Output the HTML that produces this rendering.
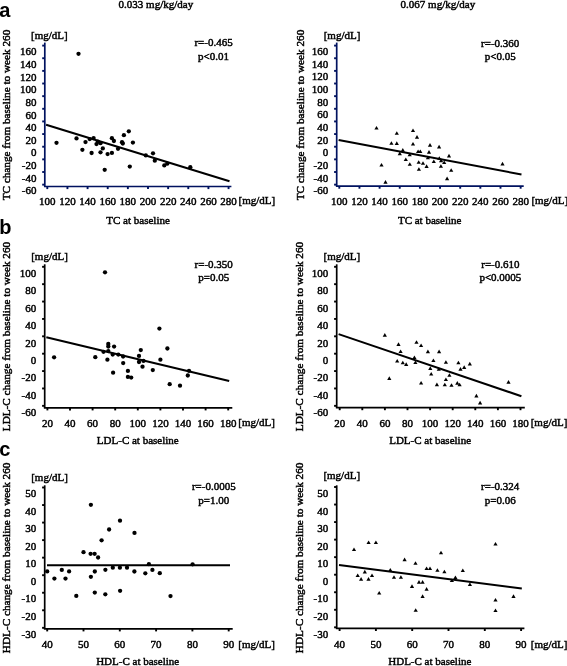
<!DOCTYPE html><html><head><meta charset="utf-8"><style>html,body{margin:0;padding:0;background:#fff;}svg{display:block;will-change:transform;}text{stroke:#000;stroke-width:0.45;}</style></head><body>
<svg width="567" height="666" viewBox="0 0 567 666" font-family='"Liberation Serif", serif' fill="#000">
<rect width="567" height="666" fill="#fff"/>
<text x="155.90" y="7.50" text-anchor="middle" font-size="11" >0.033 mg/kg/day</text>
<text x="437.90" y="7.50" text-anchor="middle" font-size="11" >0.067 mg/kg/day</text>
<text x="-0.8" y="16.5" font-family="'Liberation Sans', sans-serif" font-weight="bold" font-size="20" style="stroke:none">a</text>
<text x="-0.8" y="234.0" font-family="'Liberation Sans', sans-serif" font-weight="bold" font-size="20" style="stroke:none">b</text>
<text x="-0.8" y="455.8" font-family="'Liberation Sans', sans-serif" font-weight="bold" font-size="20" style="stroke:none">c</text>
<line x1="44.80" y1="42.60" x2="44.80" y2="186.50" stroke="#00125f" stroke-width="1.7"/>
<line x1="43.95" y1="186.50" x2="231.40" y2="186.50" stroke="#00125f" stroke-width="1.7"/>
<line x1="42.20" y1="45.60" x2="44.80" y2="45.60" stroke="#00125f" stroke-width="1.9"/>
<line x1="42.20" y1="58.24" x2="44.80" y2="58.24" stroke="#00125f" stroke-width="1.9"/>
<line x1="42.20" y1="70.88" x2="44.80" y2="70.88" stroke="#00125f" stroke-width="1.9"/>
<line x1="42.20" y1="83.52" x2="44.80" y2="83.52" stroke="#00125f" stroke-width="1.9"/>
<line x1="42.20" y1="96.16" x2="44.80" y2="96.16" stroke="#00125f" stroke-width="1.9"/>
<line x1="42.20" y1="108.80" x2="44.80" y2="108.80" stroke="#00125f" stroke-width="1.9"/>
<line x1="42.20" y1="121.44" x2="44.80" y2="121.44" stroke="#00125f" stroke-width="1.9"/>
<line x1="42.20" y1="134.08" x2="44.80" y2="134.08" stroke="#00125f" stroke-width="1.9"/>
<line x1="42.20" y1="146.72" x2="44.80" y2="146.72" stroke="#00125f" stroke-width="1.9"/>
<line x1="42.20" y1="159.36" x2="44.80" y2="159.36" stroke="#00125f" stroke-width="1.9"/>
<line x1="42.20" y1="172.00" x2="44.80" y2="172.00" stroke="#00125f" stroke-width="1.9"/>
<line x1="42.20" y1="184.64" x2="44.80" y2="184.64" stroke="#00125f" stroke-width="1.9"/>
<line x1="47.30" y1="186.50" x2="47.30" y2="189.10" stroke="#00125f" stroke-width="1.9"/>
<line x1="67.44" y1="186.50" x2="67.44" y2="189.10" stroke="#00125f" stroke-width="1.9"/>
<line x1="87.58" y1="186.50" x2="87.58" y2="189.10" stroke="#00125f" stroke-width="1.9"/>
<line x1="107.72" y1="186.50" x2="107.72" y2="189.10" stroke="#00125f" stroke-width="1.9"/>
<line x1="127.86" y1="186.50" x2="127.86" y2="189.10" stroke="#00125f" stroke-width="1.9"/>
<line x1="148.00" y1="186.50" x2="148.00" y2="189.10" stroke="#00125f" stroke-width="1.9"/>
<line x1="168.14" y1="186.50" x2="168.14" y2="189.10" stroke="#00125f" stroke-width="1.9"/>
<line x1="188.28" y1="186.50" x2="188.28" y2="189.10" stroke="#00125f" stroke-width="1.9"/>
<line x1="208.42" y1="186.50" x2="208.42" y2="189.10" stroke="#00125f" stroke-width="1.9"/>
<line x1="228.56" y1="186.50" x2="228.56" y2="189.10" stroke="#00125f" stroke-width="1.9"/>
<text x="36.40" y="55.30" text-anchor="end" font-size="11" >160</text>
<text x="36.40" y="67.94" text-anchor="end" font-size="11" >140</text>
<text x="36.40" y="80.58" text-anchor="end" font-size="11" >120</text>
<text x="36.40" y="93.22" text-anchor="end" font-size="11" >100</text>
<text x="36.40" y="105.86" text-anchor="end" font-size="11" >80</text>
<text x="36.40" y="118.50" text-anchor="end" font-size="11" >60</text>
<text x="36.40" y="131.14" text-anchor="end" font-size="11" >40</text>
<text x="36.40" y="143.78" text-anchor="end" font-size="11" >20</text>
<text x="36.40" y="156.42" text-anchor="end" font-size="11" >0</text>
<text x="36.40" y="169.06" text-anchor="end" font-size="11" >-20</text>
<text x="36.40" y="181.70" text-anchor="end" font-size="11" >-40</text>
<text x="36.40" y="194.34" text-anchor="end" font-size="11" >-60</text>
<text x="47.30" y="205.00" text-anchor="middle" font-size="11" >100</text>
<text x="67.44" y="205.00" text-anchor="middle" font-size="11" >120</text>
<text x="87.58" y="205.00" text-anchor="middle" font-size="11" >140</text>
<text x="107.72" y="205.00" text-anchor="middle" font-size="11" >160</text>
<text x="127.86" y="205.00" text-anchor="middle" font-size="11" >180</text>
<text x="148.00" y="205.00" text-anchor="middle" font-size="11" >200</text>
<text x="168.14" y="205.00" text-anchor="middle" font-size="11" >220</text>
<text x="188.28" y="205.00" text-anchor="middle" font-size="11" >240</text>
<text x="208.42" y="205.00" text-anchor="middle" font-size="11" >260</text>
<text x="228.56" y="205.00" text-anchor="middle" font-size="11" >280</text>
<text x="31.00" y="38.60" text-anchor="start" font-size="11" >[mg/dL]</text>
<text x="238.50" y="204.00" text-anchor="start" font-size="11" >[mg/dL]</text>
<text x="138.10" y="224.00" text-anchor="middle" font-size="11" >TC at baseline</text>
<text x="0" y="0" text-anchor="middle" font-size="10.8" transform="translate(9.60,115.05) rotate(-90) scale(1.04,1)">TC change from baseline to week 260</text>
<text x="213.60" y="46.30" text-anchor="middle" font-size="11" >r=-0.465</text>
<text x="213.60" y="60.00" text-anchor="middle" font-size="11" >p&lt;0.01</text>
<line x1="46.10" y1="124.80" x2="229.50" y2="181.30" stroke="#000" stroke-width="2.05"/>
<circle cx="56.50" cy="142.80" r="2.15"/>
<circle cx="76.50" cy="138.40" r="2.15"/>
<circle cx="85.50" cy="142.10" r="2.15"/>
<circle cx="82.40" cy="149.80" r="2.15"/>
<circle cx="89.70" cy="139.10" r="2.15"/>
<circle cx="93.60" cy="138.10" r="2.15"/>
<circle cx="91.60" cy="153.00" r="2.15"/>
<circle cx="96.50" cy="144.10" r="2.15"/>
<circle cx="97.80" cy="141.70" r="2.15"/>
<circle cx="100.50" cy="143.20" r="2.15"/>
<circle cx="102.80" cy="148.40" r="2.15"/>
<circle cx="100.50" cy="152.30" r="2.15"/>
<circle cx="107.60" cy="154.10" r="2.15"/>
<circle cx="111.90" cy="152.90" r="2.15"/>
<circle cx="111.90" cy="138.20" r="2.15"/>
<circle cx="113.90" cy="141.00" r="2.15"/>
<circle cx="104.70" cy="169.80" r="2.15"/>
<circle cx="118.00" cy="148.80" r="2.15"/>
<circle cx="122.00" cy="142.20" r="2.15"/>
<circle cx="122.80" cy="143.50" r="2.15"/>
<circle cx="123.90" cy="135.20" r="2.15"/>
<circle cx="128.80" cy="131.30" r="2.15"/>
<circle cx="132.90" cy="142.60" r="2.15"/>
<circle cx="129.80" cy="166.60" r="2.15"/>
<circle cx="145.80" cy="155.40" r="2.15"/>
<circle cx="153.00" cy="153.30" r="2.15"/>
<circle cx="154.80" cy="160.70" r="2.15"/>
<circle cx="164.30" cy="165.40" r="2.15"/>
<circle cx="167.30" cy="163.70" r="2.15"/>
<circle cx="190.30" cy="167.20" r="2.15"/>
<circle cx="78.50" cy="53.80" r="2.15"/>
<line x1="336.70" y1="42.60" x2="336.70" y2="186.10" stroke="#00125f" stroke-width="1.7"/>
<line x1="335.85" y1="186.10" x2="523.70" y2="186.10" stroke="#00125f" stroke-width="1.7"/>
<line x1="334.10" y1="45.60" x2="336.70" y2="45.60" stroke="#00125f" stroke-width="1.9"/>
<line x1="334.10" y1="58.24" x2="336.70" y2="58.24" stroke="#00125f" stroke-width="1.9"/>
<line x1="334.10" y1="70.88" x2="336.70" y2="70.88" stroke="#00125f" stroke-width="1.9"/>
<line x1="334.10" y1="83.52" x2="336.70" y2="83.52" stroke="#00125f" stroke-width="1.9"/>
<line x1="334.10" y1="96.16" x2="336.70" y2="96.16" stroke="#00125f" stroke-width="1.9"/>
<line x1="334.10" y1="108.80" x2="336.70" y2="108.80" stroke="#00125f" stroke-width="1.9"/>
<line x1="334.10" y1="121.44" x2="336.70" y2="121.44" stroke="#00125f" stroke-width="1.9"/>
<line x1="334.10" y1="134.08" x2="336.70" y2="134.08" stroke="#00125f" stroke-width="1.9"/>
<line x1="334.10" y1="146.72" x2="336.70" y2="146.72" stroke="#00125f" stroke-width="1.9"/>
<line x1="334.10" y1="159.36" x2="336.70" y2="159.36" stroke="#00125f" stroke-width="1.9"/>
<line x1="334.10" y1="172.00" x2="336.70" y2="172.00" stroke="#00125f" stroke-width="1.9"/>
<line x1="334.10" y1="184.64" x2="336.70" y2="184.64" stroke="#00125f" stroke-width="1.9"/>
<line x1="339.30" y1="186.10" x2="339.30" y2="188.70" stroke="#00125f" stroke-width="1.9"/>
<line x1="359.45" y1="186.10" x2="359.45" y2="188.70" stroke="#00125f" stroke-width="1.9"/>
<line x1="379.60" y1="186.10" x2="379.60" y2="188.70" stroke="#00125f" stroke-width="1.9"/>
<line x1="399.75" y1="186.10" x2="399.75" y2="188.70" stroke="#00125f" stroke-width="1.9"/>
<line x1="419.90" y1="186.10" x2="419.90" y2="188.70" stroke="#00125f" stroke-width="1.9"/>
<line x1="440.05" y1="186.10" x2="440.05" y2="188.70" stroke="#00125f" stroke-width="1.9"/>
<line x1="460.20" y1="186.10" x2="460.20" y2="188.70" stroke="#00125f" stroke-width="1.9"/>
<line x1="480.35" y1="186.10" x2="480.35" y2="188.70" stroke="#00125f" stroke-width="1.9"/>
<line x1="500.50" y1="186.10" x2="500.50" y2="188.70" stroke="#00125f" stroke-width="1.9"/>
<line x1="520.65" y1="186.10" x2="520.65" y2="188.70" stroke="#00125f" stroke-width="1.9"/>
<text x="328.20" y="55.20" text-anchor="end" font-size="11" >160</text>
<text x="328.20" y="67.84" text-anchor="end" font-size="11" >140</text>
<text x="328.20" y="80.48" text-anchor="end" font-size="11" >120</text>
<text x="328.20" y="93.12" text-anchor="end" font-size="11" >100</text>
<text x="328.20" y="105.76" text-anchor="end" font-size="11" >80</text>
<text x="328.20" y="118.40" text-anchor="end" font-size="11" >60</text>
<text x="328.20" y="131.04" text-anchor="end" font-size="11" >40</text>
<text x="328.20" y="143.68" text-anchor="end" font-size="11" >20</text>
<text x="328.20" y="156.32" text-anchor="end" font-size="11" >0</text>
<text x="328.20" y="168.96" text-anchor="end" font-size="11" >-20</text>
<text x="328.20" y="181.60" text-anchor="end" font-size="11" >-40</text>
<text x="328.20" y="194.24" text-anchor="end" font-size="11" >-60</text>
<text x="339.30" y="204.80" text-anchor="middle" font-size="11" >100</text>
<text x="359.45" y="204.80" text-anchor="middle" font-size="11" >120</text>
<text x="379.60" y="204.80" text-anchor="middle" font-size="11" >140</text>
<text x="399.75" y="204.80" text-anchor="middle" font-size="11" >160</text>
<text x="419.90" y="204.80" text-anchor="middle" font-size="11" >180</text>
<text x="440.05" y="204.80" text-anchor="middle" font-size="11" >200</text>
<text x="460.20" y="204.80" text-anchor="middle" font-size="11" >220</text>
<text x="480.35" y="204.80" text-anchor="middle" font-size="11" >240</text>
<text x="500.50" y="204.80" text-anchor="middle" font-size="11" >260</text>
<text x="520.65" y="204.80" text-anchor="middle" font-size="11" >280</text>
<text x="323.70" y="38.60" text-anchor="start" font-size="11" >[mg/dL]</text>
<text x="531.40" y="204.00" text-anchor="start" font-size="11" >[mg/dL]</text>
<text x="429.70" y="224.00" text-anchor="middle" font-size="11" >TC at baseline</text>
<text x="0" y="0" text-anchor="middle" font-size="10.8" transform="translate(303.50,115.05) rotate(-90) scale(1.04,1)">TC change from baseline to week 260</text>
<text x="500.20" y="46.70" text-anchor="middle" font-size="11" >r=-0.360</text>
<text x="500.20" y="60.00" text-anchor="middle" font-size="11" >p&lt;0.05</text>
<line x1="338.60" y1="139.90" x2="521.50" y2="174.50" stroke="#000" stroke-width="2.05"/>
<path d="M376.50 126.00L378.60 129.60L374.40 129.60Z"/>
<path d="M396.80 131.20L398.90 134.80L394.70 134.80Z"/>
<path d="M391.40 141.20L393.50 144.80L389.30 144.80Z"/>
<path d="M396.80 141.30L398.90 144.90L394.70 144.90Z"/>
<path d="M413.00 128.50L415.10 132.10L410.90 132.10Z"/>
<path d="M417.00 135.10L419.10 138.70L414.90 138.70Z"/>
<path d="M413.00 142.00L415.10 145.60L410.90 145.60Z"/>
<path d="M402.80 148.10L404.90 151.70L400.70 151.70Z"/>
<path d="M399.80 151.60L401.90 155.20L397.70 155.20Z"/>
<path d="M409.70 152.70L411.80 156.30L407.60 156.30Z"/>
<path d="M405.80 157.50L407.90 161.10L403.70 161.10Z"/>
<path d="M409.80 162.20L411.90 165.80L407.70 165.80Z"/>
<path d="M418.10 149.50L420.20 153.10L416.00 153.10Z"/>
<path d="M420.30 149.50L422.40 153.10L418.20 153.10Z"/>
<path d="M418.70 160.20L420.80 163.80L416.60 163.80Z"/>
<path d="M423.00 161.20L425.10 164.80L420.90 164.80Z"/>
<path d="M426.60 164.30L428.70 167.90L424.50 167.90Z"/>
<path d="M418.90 167.20L421.00 170.80L416.80 170.80Z"/>
<path d="M430.00 143.10L432.10 146.70L427.90 146.70Z"/>
<path d="M429.00 150.10L431.10 153.70L426.90 153.70Z"/>
<path d="M427.90 155.70L430.00 159.30L425.80 159.30Z"/>
<path d="M433.80 159.40L435.90 163.00L431.70 163.00Z"/>
<path d="M439.10 144.80L441.20 148.40L437.00 148.40Z"/>
<path d="M439.30 156.20L441.40 159.80L437.20 159.80Z"/>
<path d="M441.10 158.60L443.20 162.20L439.00 162.20Z"/>
<path d="M444.20 160.40L446.30 164.00L442.10 164.00Z"/>
<path d="M440.90 164.20L443.00 167.80L438.80 167.80Z"/>
<path d="M449.00 153.80L451.10 157.40L446.90 157.40Z"/>
<path d="M451.20 168.20L453.30 171.80L449.10 171.80Z"/>
<path d="M447.10 176.60L449.20 180.20L445.00 180.20Z"/>
<path d="M381.50 162.90L383.60 166.50L379.40 166.50Z"/>
<path d="M385.50 180.10L387.60 183.70L383.40 183.70Z"/>
<path d="M502.50 161.80L504.60 165.40L500.40 165.40Z"/>
<line x1="44.70" y1="264.30" x2="44.70" y2="407.80" stroke="#000" stroke-width="1.7"/>
<line x1="43.85" y1="407.80" x2="232.30" y2="407.80" stroke="#000" stroke-width="1.7"/>
<line x1="42.10" y1="266.80" x2="44.70" y2="266.80" stroke="#000" stroke-width="1.9"/>
<line x1="42.10" y1="284.18" x2="44.70" y2="284.18" stroke="#000" stroke-width="1.9"/>
<line x1="42.10" y1="301.56" x2="44.70" y2="301.56" stroke="#000" stroke-width="1.9"/>
<line x1="42.10" y1="318.94" x2="44.70" y2="318.94" stroke="#000" stroke-width="1.9"/>
<line x1="42.10" y1="336.32" x2="44.70" y2="336.32" stroke="#000" stroke-width="1.9"/>
<line x1="42.10" y1="353.70" x2="44.70" y2="353.70" stroke="#000" stroke-width="1.9"/>
<line x1="42.10" y1="371.08" x2="44.70" y2="371.08" stroke="#000" stroke-width="1.9"/>
<line x1="42.10" y1="388.46" x2="44.70" y2="388.46" stroke="#000" stroke-width="1.9"/>
<line x1="42.10" y1="405.84" x2="44.70" y2="405.84" stroke="#000" stroke-width="1.9"/>
<line x1="47.40" y1="407.80" x2="47.40" y2="410.40" stroke="#000" stroke-width="1.9"/>
<line x1="70.00" y1="407.80" x2="70.00" y2="410.40" stroke="#000" stroke-width="1.9"/>
<line x1="92.60" y1="407.80" x2="92.60" y2="410.40" stroke="#000" stroke-width="1.9"/>
<line x1="115.20" y1="407.80" x2="115.20" y2="410.40" stroke="#000" stroke-width="1.9"/>
<line x1="137.80" y1="407.80" x2="137.80" y2="410.40" stroke="#000" stroke-width="1.9"/>
<line x1="160.40" y1="407.80" x2="160.40" y2="410.40" stroke="#000" stroke-width="1.9"/>
<line x1="183.00" y1="407.80" x2="183.00" y2="410.40" stroke="#000" stroke-width="1.9"/>
<line x1="205.60" y1="407.80" x2="205.60" y2="410.40" stroke="#000" stroke-width="1.9"/>
<line x1="228.20" y1="407.80" x2="228.20" y2="410.40" stroke="#000" stroke-width="1.9"/>
<text x="36.20" y="277.00" text-anchor="end" font-size="11" >100</text>
<text x="36.20" y="294.40" text-anchor="end" font-size="11" >80</text>
<text x="36.20" y="311.80" text-anchor="end" font-size="11" >60</text>
<text x="36.20" y="329.20" text-anchor="end" font-size="11" >40</text>
<text x="36.20" y="346.60" text-anchor="end" font-size="11" >20</text>
<text x="36.20" y="364.00" text-anchor="end" font-size="11" >0</text>
<text x="36.20" y="381.40" text-anchor="end" font-size="11" >-20</text>
<text x="36.20" y="398.80" text-anchor="end" font-size="11" >-40</text>
<text x="36.20" y="416.20" text-anchor="end" font-size="11" >-60</text>
<text x="47.40" y="426.80" text-anchor="middle" font-size="11" >20</text>
<text x="70.00" y="426.80" text-anchor="middle" font-size="11" >40</text>
<text x="92.60" y="426.80" text-anchor="middle" font-size="11" >60</text>
<text x="115.20" y="426.80" text-anchor="middle" font-size="11" >80</text>
<text x="137.80" y="426.80" text-anchor="middle" font-size="11" >100</text>
<text x="160.40" y="426.80" text-anchor="middle" font-size="11" >120</text>
<text x="183.00" y="426.80" text-anchor="middle" font-size="11" >140</text>
<text x="205.60" y="426.80" text-anchor="middle" font-size="11" >160</text>
<text x="228.20" y="426.80" text-anchor="middle" font-size="11" >180</text>
<text x="31.20" y="260.00" text-anchor="start" font-size="11" >[mg/dL]</text>
<text x="238.30" y="426.00" text-anchor="start" font-size="11" >[mg/dL]</text>
<text x="137.80" y="444.00" text-anchor="middle" font-size="11" >LDL-C at baseline</text>
<text x="0" y="0" text-anchor="middle" font-size="10.8" transform="translate(9.60,336.55) rotate(-90) scale(1.04,1)">LDL-C change from baseline to week 260</text>
<text x="213.70" y="267.90" text-anchor="middle" font-size="11" >r=-0.350</text>
<text x="213.70" y="281.10" text-anchor="middle" font-size="11" >p=0.05</text>
<line x1="46.30" y1="337.20" x2="229.20" y2="380.90" stroke="#000" stroke-width="2.05"/>
<circle cx="105.00" cy="272.30" r="2.15"/>
<circle cx="54.10" cy="357.30" r="2.15"/>
<circle cx="95.30" cy="357.20" r="2.15"/>
<circle cx="108.30" cy="344.00" r="2.15"/>
<circle cx="108.30" cy="346.50" r="2.15"/>
<circle cx="114.10" cy="346.60" r="2.15"/>
<circle cx="103.50" cy="351.80" r="2.15"/>
<circle cx="108.30" cy="351.10" r="2.15"/>
<circle cx="112.70" cy="354.60" r="2.15"/>
<circle cx="118.30" cy="354.60" r="2.15"/>
<circle cx="123.10" cy="356.50" r="2.15"/>
<circle cx="107.40" cy="359.70" r="2.15"/>
<circle cx="123.20" cy="363.10" r="2.15"/>
<circle cx="113.10" cy="372.70" r="2.15"/>
<circle cx="127.90" cy="370.90" r="2.15"/>
<circle cx="127.90" cy="376.90" r="2.15"/>
<circle cx="131.20" cy="377.60" r="2.15"/>
<circle cx="159.40" cy="328.60" r="2.15"/>
<circle cx="167.40" cy="348.50" r="2.15"/>
<circle cx="140.80" cy="350.10" r="2.15"/>
<circle cx="139.00" cy="355.90" r="2.15"/>
<circle cx="139.00" cy="362.00" r="2.15"/>
<circle cx="143.50" cy="360.90" r="2.15"/>
<circle cx="142.50" cy="366.70" r="2.15"/>
<circle cx="160.40" cy="359.70" r="2.15"/>
<circle cx="152.80" cy="370.10" r="2.15"/>
<circle cx="189.00" cy="370.80" r="2.15"/>
<circle cx="187.80" cy="375.50" r="2.15"/>
<circle cx="169.70" cy="384.20" r="2.15"/>
<circle cx="180.00" cy="385.70" r="2.15"/>
<line x1="336.70" y1="264.30" x2="336.70" y2="407.60" stroke="#000" stroke-width="1.7"/>
<line x1="335.85" y1="407.60" x2="524.80" y2="407.60" stroke="#000" stroke-width="1.7"/>
<line x1="334.10" y1="266.80" x2="336.70" y2="266.80" stroke="#000" stroke-width="1.9"/>
<line x1="334.10" y1="284.18" x2="336.70" y2="284.18" stroke="#000" stroke-width="1.9"/>
<line x1="334.10" y1="301.56" x2="336.70" y2="301.56" stroke="#000" stroke-width="1.9"/>
<line x1="334.10" y1="318.94" x2="336.70" y2="318.94" stroke="#000" stroke-width="1.9"/>
<line x1="334.10" y1="336.32" x2="336.70" y2="336.32" stroke="#000" stroke-width="1.9"/>
<line x1="334.10" y1="353.70" x2="336.70" y2="353.70" stroke="#000" stroke-width="1.9"/>
<line x1="334.10" y1="371.08" x2="336.70" y2="371.08" stroke="#000" stroke-width="1.9"/>
<line x1="334.10" y1="388.46" x2="336.70" y2="388.46" stroke="#000" stroke-width="1.9"/>
<line x1="334.10" y1="405.84" x2="336.70" y2="405.84" stroke="#000" stroke-width="1.9"/>
<line x1="339.70" y1="407.60" x2="339.70" y2="410.20" stroke="#000" stroke-width="1.9"/>
<line x1="362.30" y1="407.60" x2="362.30" y2="410.20" stroke="#000" stroke-width="1.9"/>
<line x1="384.90" y1="407.60" x2="384.90" y2="410.20" stroke="#000" stroke-width="1.9"/>
<line x1="407.50" y1="407.60" x2="407.50" y2="410.20" stroke="#000" stroke-width="1.9"/>
<line x1="430.10" y1="407.60" x2="430.10" y2="410.20" stroke="#000" stroke-width="1.9"/>
<line x1="452.70" y1="407.60" x2="452.70" y2="410.20" stroke="#000" stroke-width="1.9"/>
<line x1="475.30" y1="407.60" x2="475.30" y2="410.20" stroke="#000" stroke-width="1.9"/>
<line x1="497.90" y1="407.60" x2="497.90" y2="410.20" stroke="#000" stroke-width="1.9"/>
<line x1="520.50" y1="407.60" x2="520.50" y2="410.20" stroke="#000" stroke-width="1.9"/>
<text x="328.20" y="277.00" text-anchor="end" font-size="11" >100</text>
<text x="328.20" y="294.40" text-anchor="end" font-size="11" >80</text>
<text x="328.20" y="311.80" text-anchor="end" font-size="11" >60</text>
<text x="328.20" y="329.20" text-anchor="end" font-size="11" >40</text>
<text x="328.20" y="346.60" text-anchor="end" font-size="11" >20</text>
<text x="328.20" y="364.00" text-anchor="end" font-size="11" >0</text>
<text x="328.20" y="381.40" text-anchor="end" font-size="11" >-20</text>
<text x="328.20" y="398.80" text-anchor="end" font-size="11" >-40</text>
<text x="328.20" y="416.20" text-anchor="end" font-size="11" >-60</text>
<text x="339.70" y="426.80" text-anchor="middle" font-size="11" >20</text>
<text x="362.30" y="426.80" text-anchor="middle" font-size="11" >40</text>
<text x="384.90" y="426.80" text-anchor="middle" font-size="11" >60</text>
<text x="407.50" y="426.80" text-anchor="middle" font-size="11" >80</text>
<text x="430.10" y="426.80" text-anchor="middle" font-size="11" >100</text>
<text x="452.70" y="426.80" text-anchor="middle" font-size="11" >120</text>
<text x="475.30" y="426.80" text-anchor="middle" font-size="11" >140</text>
<text x="497.90" y="426.80" text-anchor="middle" font-size="11" >160</text>
<text x="520.50" y="426.80" text-anchor="middle" font-size="11" >180</text>
<text x="323.60" y="260.00" text-anchor="start" font-size="11" >[mg/dL]</text>
<text x="530.70" y="426.00" text-anchor="start" font-size="11" >[mg/dL]</text>
<text x="430.10" y="444.00" text-anchor="middle" font-size="11" >LDL-C at baseline</text>
<text x="0" y="0" text-anchor="middle" font-size="10.8" transform="translate(303.30,336.55) rotate(-90) scale(1.04,1)">LDL-C change from baseline to week 260</text>
<text x="500.40" y="267.90" text-anchor="middle" font-size="11" >r=-0.610</text>
<text x="500.40" y="281.10" text-anchor="middle" font-size="11" >p&lt;0.0005</text>
<line x1="338.60" y1="334.10" x2="521.40" y2="396.20" stroke="#000" stroke-width="2.05"/>
<path d="M384.80 333.10L386.90 336.70L382.70 336.70Z"/>
<path d="M398.50 342.30L400.60 345.90L396.40 345.90Z"/>
<path d="M416.50 340.20L418.60 343.80L414.40 343.80Z"/>
<path d="M421.10 343.50L423.20 347.10L419.00 347.10Z"/>
<path d="M400.60 349.40L402.70 353.00L398.50 353.00Z"/>
<path d="M427.90 349.60L430.00 353.20L425.80 353.20Z"/>
<path d="M439.10 349.60L441.20 353.20L437.00 353.20Z"/>
<path d="M414.40 355.50L416.50 359.10L412.30 359.10Z"/>
<path d="M433.40 358.40L435.50 362.00L431.30 362.00Z"/>
<path d="M397.20 358.90L399.30 362.50L395.10 362.50Z"/>
<path d="M402.80 360.70L404.90 364.30L400.70 364.30Z"/>
<path d="M406.20 362.30L408.30 365.90L404.10 365.90Z"/>
<path d="M415.40 360.50L417.50 364.10L413.30 364.10Z"/>
<path d="M430.30 366.30L432.40 369.90L428.20 369.90Z"/>
<path d="M438.80 367.20L440.90 370.80L436.70 370.80Z"/>
<path d="M431.20 371.90L433.30 375.50L429.10 375.50Z"/>
<path d="M389.30 376.30L391.40 379.90L387.20 379.90Z"/>
<path d="M421.10 380.90L423.20 384.50L419.00 384.50Z"/>
<path d="M436.90 382.60L439.00 386.20L434.80 386.20Z"/>
<path d="M445.90 360.20L448.00 363.80L443.80 363.80Z"/>
<path d="M458.40 360.70L460.50 364.30L456.30 364.30Z"/>
<path d="M469.80 361.80L471.90 365.40L467.70 365.40Z"/>
<path d="M464.20 365.30L466.30 368.90L462.10 368.90Z"/>
<path d="M460.50 367.10L462.60 370.70L458.40 370.70Z"/>
<path d="M449.40 373.20L451.50 376.80L447.30 376.80Z"/>
<path d="M445.90 377.40L448.00 381.00L443.80 381.00Z"/>
<path d="M444.80 382.70L446.90 386.30L442.70 386.30Z"/>
<path d="M451.50 383.20L453.60 386.80L449.40 386.80Z"/>
<path d="M457.30 381.10L459.40 384.70L455.20 384.70Z"/>
<path d="M459.60 382.70L461.70 386.30L457.50 386.30Z"/>
<path d="M508.50 380.10L510.60 383.70L506.40 383.70Z"/>
<path d="M476.40 393.80L478.50 397.40L474.30 397.40Z"/>
<path d="M480.10 400.80L482.20 404.40L478.00 404.40Z"/>
<line x1="44.70" y1="485.30" x2="44.70" y2="628.80" stroke="#000" stroke-width="1.7"/>
<line x1="43.85" y1="628.80" x2="232.70" y2="628.80" stroke="#000" stroke-width="1.7"/>
<line x1="42.10" y1="487.50" x2="44.70" y2="487.50" stroke="#000" stroke-width="1.9"/>
<line x1="42.10" y1="505.04" x2="44.70" y2="505.04" stroke="#000" stroke-width="1.9"/>
<line x1="42.10" y1="522.58" x2="44.70" y2="522.58" stroke="#000" stroke-width="1.9"/>
<line x1="42.10" y1="540.12" x2="44.70" y2="540.12" stroke="#000" stroke-width="1.9"/>
<line x1="42.10" y1="557.66" x2="44.70" y2="557.66" stroke="#000" stroke-width="1.9"/>
<line x1="42.10" y1="575.20" x2="44.70" y2="575.20" stroke="#000" stroke-width="1.9"/>
<line x1="42.10" y1="592.74" x2="44.70" y2="592.74" stroke="#000" stroke-width="1.9"/>
<line x1="42.10" y1="610.28" x2="44.70" y2="610.28" stroke="#000" stroke-width="1.9"/>
<line x1="42.10" y1="627.82" x2="44.70" y2="627.82" stroke="#000" stroke-width="1.9"/>
<line x1="47.20" y1="628.80" x2="47.20" y2="631.40" stroke="#000" stroke-width="1.9"/>
<line x1="83.50" y1="628.80" x2="83.50" y2="631.40" stroke="#000" stroke-width="1.9"/>
<line x1="119.80" y1="628.80" x2="119.80" y2="631.40" stroke="#000" stroke-width="1.9"/>
<line x1="156.10" y1="628.80" x2="156.10" y2="631.40" stroke="#000" stroke-width="1.9"/>
<line x1="192.40" y1="628.80" x2="192.40" y2="631.40" stroke="#000" stroke-width="1.9"/>
<line x1="228.70" y1="628.80" x2="228.70" y2="631.40" stroke="#000" stroke-width="1.9"/>
<text x="36.20" y="497.00" text-anchor="end" font-size="11" >50</text>
<text x="36.20" y="514.58" text-anchor="end" font-size="11" >40</text>
<text x="36.20" y="532.16" text-anchor="end" font-size="11" >30</text>
<text x="36.20" y="549.74" text-anchor="end" font-size="11" >20</text>
<text x="36.20" y="567.32" text-anchor="end" font-size="11" >10</text>
<text x="36.20" y="584.90" text-anchor="end" font-size="11" >0</text>
<text x="36.20" y="602.48" text-anchor="end" font-size="11" >-10</text>
<text x="36.20" y="620.06" text-anchor="end" font-size="11" >-20</text>
<text x="36.20" y="637.64" text-anchor="end" font-size="11" >-30</text>
<text x="47.20" y="647.60" text-anchor="middle" font-size="11" >40</text>
<text x="83.50" y="647.60" text-anchor="middle" font-size="11" >50</text>
<text x="119.80" y="647.60" text-anchor="middle" font-size="11" >60</text>
<text x="156.10" y="647.60" text-anchor="middle" font-size="11" >70</text>
<text x="192.40" y="647.60" text-anchor="middle" font-size="11" >80</text>
<text x="228.70" y="647.60" text-anchor="middle" font-size="11" >90</text>
<text x="31.20" y="481.00" text-anchor="start" font-size="11" >[mg/dL]</text>
<text x="238.30" y="648.00" text-anchor="start" font-size="11" >[mg/dL]</text>
<text x="137.70" y="665.00" text-anchor="middle" font-size="11" >HDL-C at baseline</text>
<text x="0" y="0" text-anchor="middle" font-size="10.8" transform="translate(9.60,557.85) rotate(-90) scale(1.04,1)">HDL-C change from baseline to week 260</text>
<text x="213.80" y="490.10" text-anchor="middle" font-size="11" >r=-0.0005</text>
<text x="213.80" y="503.70" text-anchor="middle" font-size="11" >p=1.00</text>
<line x1="47.00" y1="565.20" x2="230.00" y2="565.20" stroke="#000" stroke-width="2.05"/>
<circle cx="47.20" cy="571.40" r="2.15"/>
<circle cx="61.80" cy="569.90" r="2.15"/>
<circle cx="69.10" cy="571.40" r="2.15"/>
<circle cx="54.40" cy="578.60" r="2.15"/>
<circle cx="65.50" cy="578.60" r="2.15"/>
<circle cx="83.50" cy="552.20" r="2.15"/>
<circle cx="90.60" cy="553.80" r="2.15"/>
<circle cx="94.60" cy="553.80" r="2.15"/>
<circle cx="98.10" cy="557.50" r="2.15"/>
<circle cx="101.60" cy="540.30" r="2.15"/>
<circle cx="94.80" cy="571.50" r="2.15"/>
<circle cx="90.90" cy="576.80" r="2.15"/>
<circle cx="76.30" cy="595.90" r="2.15"/>
<circle cx="94.80" cy="592.60" r="2.15"/>
<circle cx="90.90" cy="504.80" r="2.15"/>
<circle cx="120.00" cy="520.70" r="2.15"/>
<circle cx="109.10" cy="529.50" r="2.15"/>
<circle cx="134.50" cy="532.90" r="2.15"/>
<circle cx="105.40" cy="569.80" r="2.15"/>
<circle cx="112.80" cy="567.70" r="2.15"/>
<circle cx="119.90" cy="567.70" r="2.15"/>
<circle cx="127.00" cy="567.70" r="2.15"/>
<circle cx="134.40" cy="571.50" r="2.15"/>
<circle cx="145.30" cy="573.30" r="2.15"/>
<circle cx="152.40" cy="569.90" r="2.15"/>
<circle cx="148.90" cy="564.20" r="2.15"/>
<circle cx="105.30" cy="594.30" r="2.15"/>
<circle cx="120.10" cy="590.80" r="2.15"/>
<circle cx="159.80" cy="573.20" r="2.15"/>
<circle cx="170.50" cy="596.10" r="2.15"/>
<circle cx="192.60" cy="564.30" r="2.15"/>
<line x1="336.70" y1="485.30" x2="336.70" y2="628.40" stroke="#000" stroke-width="1.7"/>
<line x1="335.85" y1="628.40" x2="524.40" y2="628.40" stroke="#000" stroke-width="1.7"/>
<line x1="334.10" y1="487.00" x2="336.70" y2="487.00" stroke="#000" stroke-width="1.9"/>
<line x1="334.10" y1="504.54" x2="336.70" y2="504.54" stroke="#000" stroke-width="1.9"/>
<line x1="334.10" y1="522.08" x2="336.70" y2="522.08" stroke="#000" stroke-width="1.9"/>
<line x1="334.10" y1="539.62" x2="336.70" y2="539.62" stroke="#000" stroke-width="1.9"/>
<line x1="334.10" y1="557.16" x2="336.70" y2="557.16" stroke="#000" stroke-width="1.9"/>
<line x1="334.10" y1="574.70" x2="336.70" y2="574.70" stroke="#000" stroke-width="1.9"/>
<line x1="334.10" y1="592.24" x2="336.70" y2="592.24" stroke="#000" stroke-width="1.9"/>
<line x1="334.10" y1="609.78" x2="336.70" y2="609.78" stroke="#000" stroke-width="1.9"/>
<line x1="334.10" y1="627.32" x2="336.70" y2="627.32" stroke="#000" stroke-width="1.9"/>
<line x1="339.60" y1="628.40" x2="339.60" y2="631.00" stroke="#000" stroke-width="1.9"/>
<line x1="375.90" y1="628.40" x2="375.90" y2="631.00" stroke="#000" stroke-width="1.9"/>
<line x1="412.20" y1="628.40" x2="412.20" y2="631.00" stroke="#000" stroke-width="1.9"/>
<line x1="448.50" y1="628.40" x2="448.50" y2="631.00" stroke="#000" stroke-width="1.9"/>
<line x1="484.80" y1="628.40" x2="484.80" y2="631.00" stroke="#000" stroke-width="1.9"/>
<line x1="521.10" y1="628.40" x2="521.10" y2="631.00" stroke="#000" stroke-width="1.9"/>
<text x="328.20" y="497.00" text-anchor="end" font-size="11" >50</text>
<text x="328.20" y="514.58" text-anchor="end" font-size="11" >40</text>
<text x="328.20" y="532.16" text-anchor="end" font-size="11" >30</text>
<text x="328.20" y="549.74" text-anchor="end" font-size="11" >20</text>
<text x="328.20" y="567.32" text-anchor="end" font-size="11" >10</text>
<text x="328.20" y="584.90" text-anchor="end" font-size="11" >0</text>
<text x="328.20" y="602.48" text-anchor="end" font-size="11" >-10</text>
<text x="328.20" y="620.06" text-anchor="end" font-size="11" >-20</text>
<text x="328.20" y="637.64" text-anchor="end" font-size="11" >-30</text>
<text x="339.60" y="647.60" text-anchor="middle" font-size="11" >40</text>
<text x="375.90" y="647.60" text-anchor="middle" font-size="11" >50</text>
<text x="412.20" y="647.60" text-anchor="middle" font-size="11" >60</text>
<text x="448.50" y="647.60" text-anchor="middle" font-size="11" >70</text>
<text x="484.80" y="647.60" text-anchor="middle" font-size="11" >80</text>
<text x="521.10" y="647.60" text-anchor="middle" font-size="11" >90</text>
<text x="323.40" y="479.00" text-anchor="start" font-size="11" >[mg/dL]</text>
<text x="530.80" y="648.00" text-anchor="start" font-size="11" >[mg/dL]</text>
<text x="429.80" y="665.00" text-anchor="middle" font-size="11" >HDL-C at baseline</text>
<text x="0" y="0" text-anchor="middle" font-size="10.8" transform="translate(303.30,557.85) rotate(-90) scale(1.04,1)">HDL-C change from baseline to week 260</text>
<text x="500.20" y="490.10" text-anchor="middle" font-size="11" >r=-0.324</text>
<text x="500.20" y="503.70" text-anchor="middle" font-size="11" >p=0.06</text>
<line x1="339.00" y1="564.90" x2="521.80" y2="588.60" stroke="#000" stroke-width="2.05"/>
<path d="M368.60 540.40L370.70 544.00L366.50 544.00Z"/>
<path d="M375.90 540.40L378.00 544.00L373.80 544.00Z"/>
<path d="M354.00 547.50L356.10 551.10L351.90 551.10Z"/>
<path d="M364.80 569.80L366.90 573.40L362.70 573.40Z"/>
<path d="M357.70 573.50L359.80 577.10L355.60 577.10Z"/>
<path d="M372.00 573.50L374.10 577.10L369.90 577.10Z"/>
<path d="M361.10 577.10L363.20 580.70L359.00 580.70Z"/>
<path d="M368.50 577.10L370.60 580.70L366.40 580.70Z"/>
<path d="M390.30 567.90L392.40 571.50L388.20 571.50Z"/>
<path d="M394.00 575.20L396.10 578.80L391.90 578.80Z"/>
<path d="M400.90 575.20L403.00 578.80L398.80 578.80Z"/>
<path d="M404.60 557.60L406.70 561.20L402.50 561.20Z"/>
<path d="M415.50 561.20L417.60 564.80L413.40 564.80Z"/>
<path d="M426.60 566.50L428.70 570.10L424.50 570.10Z"/>
<path d="M430.00 566.50L432.10 570.10L427.90 570.10Z"/>
<path d="M437.40 568.20L439.50 571.80L435.30 571.80Z"/>
<path d="M441.00 550.70L443.10 554.30L438.90 554.30Z"/>
<path d="M444.40 569.70L446.50 573.30L442.30 573.30Z"/>
<path d="M419.00 580.10L421.10 583.70L416.90 583.70Z"/>
<path d="M422.60 580.10L424.70 583.70L420.50 583.70Z"/>
<path d="M412.00 584.30L414.10 587.90L409.90 587.90Z"/>
<path d="M426.60 587.10L428.70 590.70L424.50 590.70Z"/>
<path d="M422.60 594.30L424.70 597.90L420.50 597.90Z"/>
<path d="M462.80 568.40L464.90 572.00L460.70 572.00Z"/>
<path d="M455.40 575.40L457.50 579.00L453.30 579.00Z"/>
<path d="M451.90 578.40L454.00 582.00L449.80 582.00Z"/>
<path d="M469.90 582.30L472.00 585.90L467.80 585.90Z"/>
<path d="M495.50 542.00L497.60 545.60L493.40 545.60Z"/>
<path d="M513.50 594.30L515.60 597.90L511.40 597.90Z"/>
<path d="M495.50 598.00L497.60 601.60L493.40 601.60Z"/>
<path d="M495.50 608.50L497.60 612.10L493.40 612.10Z"/>
<path d="M379.20 590.90L381.30 594.50L377.10 594.50Z"/>
<path d="M415.70 608.20L417.80 611.80L413.60 611.80Z"/>
</svg></body></html>
